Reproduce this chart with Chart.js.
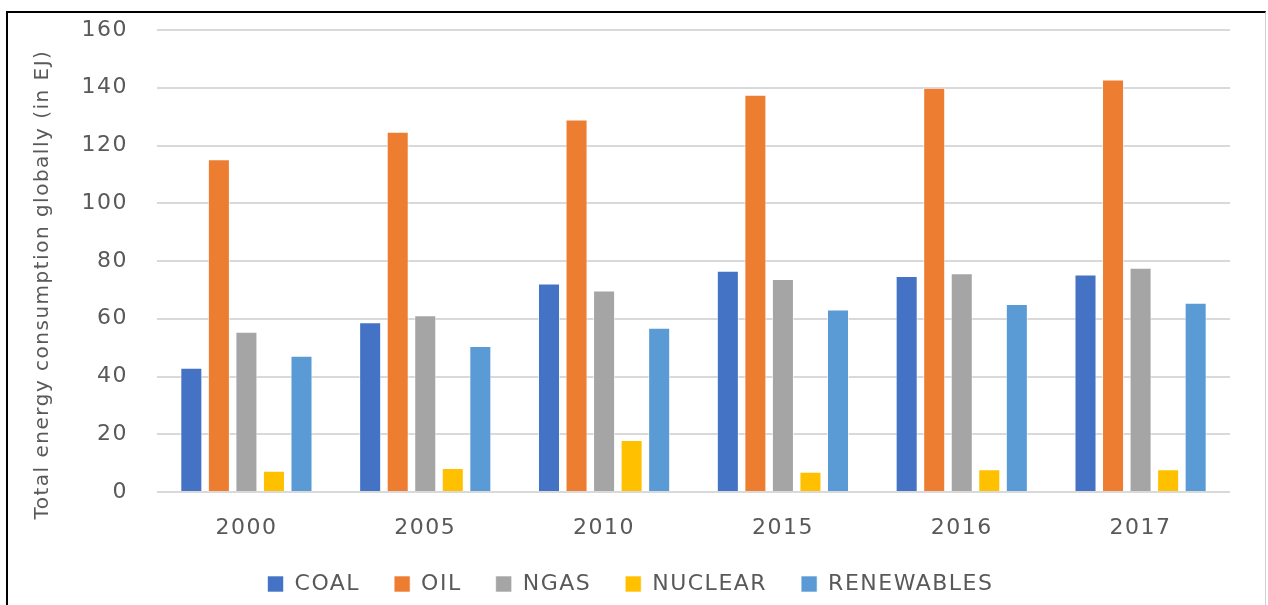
<!DOCTYPE html>
<html>
<head>
<meta charset="utf-8">
<script src="https://cdn.jsdelivr.net/npm/chart.js@4"></script>
<style>
  html, body { margin: 0; padding: 0; background: #fff; }
  #wrap { position: relative; width: 1268px; height: 605px; overflow: hidden; }
  #frame {
    position: absolute; left: 6px; top: 11px; width: 1260px; height: 600px;
    border-left: 2px solid #000; border-top: 2px solid #000; border-right: 1px solid #d0d0d0;
    box-sizing: border-box; pointer-events: none;
  }
  canvas { position: absolute; left: 0; top: 0; }
</style>
</head>
<body>
<div id="wrap">
  <canvas id="chart" width="1268" height="605"></canvas>
  <div id="frame"></div>
</div>
<script>
// =======================
// Data
// =======================
const years = ["2000", "2005", "2010", "2015", "2016", "2017"];
const coal = [43, 58.8, 72.2, 76.6, 74.8, 75.3];
const oil = [115.2, 124.8, 129, 137.6, 140, 142.9];
const ngas = [55.5, 61.2, 69.8, 73.8, 75.8, 77.7];
const nuclear = [7.4, 8.3, 18, 7, 7.9, 7.9];
const renewables = [47.2, 50.6, 56.9, 63.2, 65.1, 65.5];
const yTicks = [0, 20, 40, 60, 80, 100, 120, 140, 160];

const seriesNames = ["COAL", "OIL", "NGAS", "NUCLEAR", "RENEWABLES"];
const seriesData = [coal, oil, ngas, nuclear, renewables];
const seriesColors = ["#4472C4", "#ED7D31", "#A5A5A5", "#FFC000", "#5B9BD5"];

const textColor = "#595959";
const fontFamily = "'DejaVu Sans', 'Noto Sans', sans-serif";

// the original text is a bit wide, so loosen the letters a little
const spacingPlugin = {
  id: "spacing",
  beforeUpdate: chart => { chart.ctx.letterSpacing = "1.5px"; },
  beforeDraw: chart => { chart.ctx.letterSpacing = "1.5px"; }
};

// =======================
// Chart
// =======================
const ctx = document.getElementById("chart").getContext("2d");

new Chart(ctx, {
  type: "bar",
  plugins: [spacingPlugin],
  data: {
    labels: years,
    datasets: seriesNames.map((name, i) => ({
      label: name,
      data: seriesData[i],
      backgroundColor: seriesColors[i],
      borderColor: "rgba(255,255,255,0.6)",
      borderWidth: 1,
      barPercentage: 0.8,
      categoryPercentage: 0.77
    }))
  },
  options: {
    responsive: false,
    animation: false,
    layout: { padding: { left: 31, right: 38, top: 30, bottom: 0 } },
    plugins: {
      legend: {
        position: "bottom",
        labels: {
          color: textColor,
          font: { family: fontFamily, size: 22 },
          boxWidth: 16,
          boxHeight: 16,
          padding: 34
        }
      },
      tooltip: { enabled: false }
    },
    scales: {
      x: {
        grid: { display: false },
        border: { display: false },
        ticks: { color: textColor, font: { family: fontFamily, size: 22 }, padding: 15 },
        afterFit: scale => { scale.height = 47; }
      },
      y: {
        min: 0,
        max: 160,
        afterBuildTicks: scale => { scale.ticks = yTicks.map(v => ({ value: v })); },
        grid: { color: "#D9D9D9", lineWidth: 2, drawTicks: false },
        border: { display: false },
        ticks: { color: textColor, font: { family: fontFamily, size: 22 }, padding: 29 },
        title: {
          display: true,
          // trailing blanks nudge the title down a little, as in the original
          text: "Total energy consumption globally (in EJ)\u00a0\u00a0\u00a0\u00a0\u00a0\u00a0",
          color: textColor,
          font: { family: fontFamily, size: 20 },
          padding: 0
        },
        afterFit: scale => {
          scale.width = 126;
          scale.paddingTop = 0;
          scale.paddingBottom = 0;
        }
      }
    }
  }
});
</script>
</body>
</html>
